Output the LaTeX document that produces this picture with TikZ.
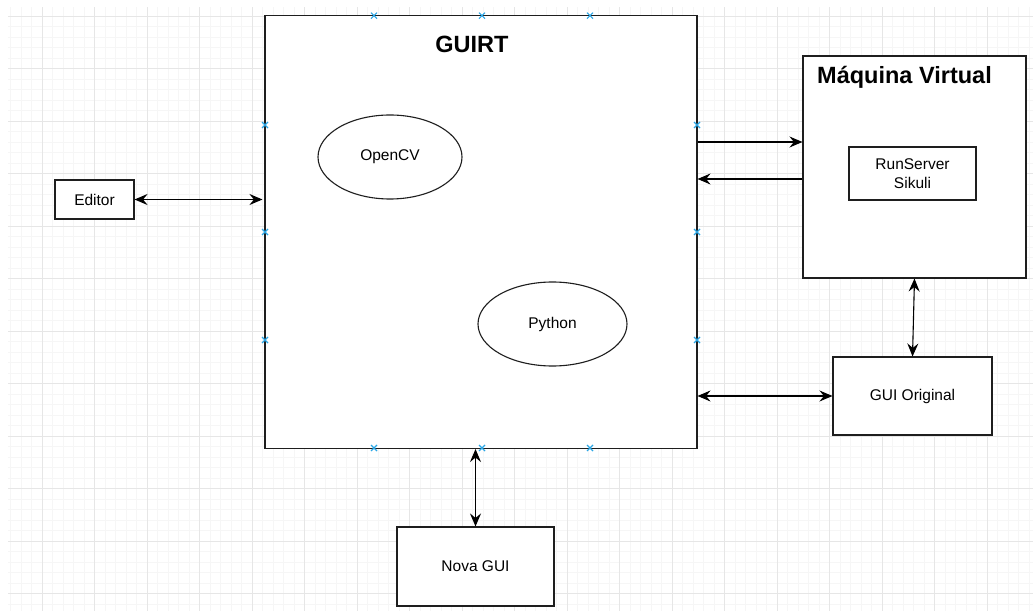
\documentclass[tikz,border=0pt]{standalone}
\usepackage{fontspec}
\setmainfont{Liberation Sans}
\usetikzlibrary{arrows.meta,shapes.geometric,calc}
\definecolor{gridminor}{HTML}{F6F6F6}
\definecolor{gridmajor}{HTML}{E6E6E6}
\definecolor{markblue}{HTML}{2AA6E6}
\definecolor{edge}{HTML}{1E1E1E}
\tikzset{
  box/.style={draw=edge, line width=1.1pt, fill=white, rectangle, inner sep=0pt, align=center, font=\fontsize{15.5}{19}\selectfont},
  oval/.style={draw=edge, line width=1.1pt, fill=white, ellipse, inner sep=0pt, font=\fontsize{15.5}{19}\selectfont},
  titletext/.style={font=\fontsize{23.5}{27}\selectfont\bfseries, inner sep=0pt},
  conn/.style={draw=black, line width=1.1pt},
  tip/.tip={Stealth[length=13pt,width=11pt,inset=4.5pt]}
}
\begin{document}
\begin{tikzpicture}[x=1pt,y=-1pt]
\useasboundingbox (0,0) rectangle (1033,612);
\fill[white] (0,0) rectangle (1033,612);
% grid
\begin{scope}
\clip (8,8) rectangle (1033,610);
\foreach \i in {0,...,99} {
  \draw[gridminor, line width=0.6pt] (10.5*\i,0) -- (10.5*\i,612);
}
\foreach \j in {-1,...,57} {
  \draw[gridminor, line width=0.6pt] (0,16+10.5*\j) -- (1033,16+10.5*\j);
}
\foreach \i in {0,...,19} {
  \draw[gridmajor, line width=0.8pt] (42+52.5*\i-52.5,0) -- (42+52.5*\i-52.5,612);
}
\foreach \j in {0,...,11} {
  \draw[gridmajor, line width=0.8pt] (0,16+52.5*\j) -- (1033,16+52.5*\j);
}
\end{scope}

% nodes
\node[box, minimum width=432pt, minimum height=433pt] (guirt) at (481,232) {};
\node[titletext] (guirtT) at (472,44) {GUIRT};
\node[oval, minimum width=144pt, minimum height=84pt] (opencv) at (390,157) {OpenCV};
\node[oval, minimum width=149pt, minimum height=84pt] (python) at (552.5,324) {Python};

\node[box, minimum width=223pt, minimum height=222pt] (mv) at (914.5,167) {};
\node[titletext] (mvT) at (904.5,77) {Máquina Virtual};
\node[box, minimum width=127pt, minimum height=53pt] (rs) at (912.5,173.5) {RunServer\\Sikuli};

\node[box, minimum width=79pt, minimum height=39pt] (editor) at (94.5,199.5) {Editor};
\node[box, minimum width=159pt, minimum height=78pt] (guio) at (912.5,396) {GUI Original};
\node[box, minimum width=157pt, minimum height=79pt] (nova) at (475.5,566.5) {Nova GUI};

% connection-point markers
\foreach \p in {(374,15.7),(482,15.7),(590,15.7),(374,448),(482,448),(590,448),(265,125),(265,232),(265,340),(697,125),(697,232),(697,340)} {
  \draw[markblue, line width=1.1pt] \p ++(-3,-3) -- ++(6,6) \p ++(-3,3) -- ++(6,-6);
}

% connectors
\coordinate (ya) at (0,142);
\coordinate (yb) at (0,179);
\draw[conn, tip-tip] (editor.east) -- ([xshift=-2pt]guirt.west |- editor.east);
\draw[conn, -tip] (guirt.east |- ya) -- (mv.west |- ya);
\draw[conn, -tip] (mv.west |- yb) -- (guirt.east |- yb);
\draw[conn, tip-tip] (mv.south) -- (guio.north);
\draw[conn, tip-tip] (guirt.east |- guio.west) -- (guio.west);
\draw[conn, tip-tip] (guirt.south -| nova.north) -- (nova.north);
\end{tikzpicture}
\end{document}
